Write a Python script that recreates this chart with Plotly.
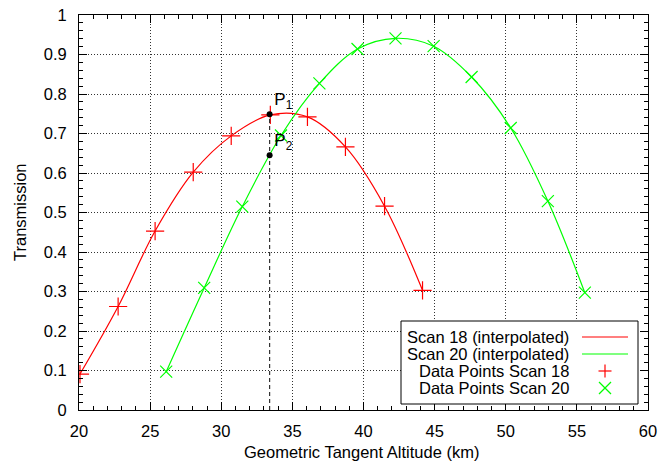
import plotly.graph_objects as go

# Data
scan18_alt = [20.07, 22.75, 25.35, 28.03, 30.70, 33.45, 36.06, 38.73, 41.48, 44.15]
scan18_tr = [0.091, 0.262, 0.453, 0.602, 0.694, 0.747, 0.742, 0.666, 0.516, 0.303]
scan20_alt = [26.13, 28.80, 31.48, 34.20, 36.90, 39.58, 42.25, 44.93, 47.60, 50.35, 52.96, 55.56]
scan20_tr = [0.097, 0.309, 0.515, 0.695, 0.827, 0.914, 0.941, 0.921, 0.843, 0.714, 0.529, 0.297]
p_alt = 33.4
p_tr = [0.749, 0.645]
p_labels = ["P<sub>1</sub>", "P<sub>2</sub>"]

legend_labels = ["Scan 18 (interpolated)", "Scan 20 (interpolated)",
                 "Data Points Scan 18", "Data Points Scan 20"]

RED = "#ff0000"
GREEN = "#00ff00"
FONT = "Liberation Sans, Arial, sans-serif"
FS = 16.5

W, H = 660, 468
# plot area in window pixels: x 79..648, y 15..410
ml, mt = 79, 15
mr = W - 648
mb = H - 410
pw, ph = W - ml - mr, H - mt - mb


def px(x):
    return (x - ml) / pw


def py(y):
    return (H - mb - y) / ph


fig = go.Figure()

fig.add_trace(go.Scatter(x=scan18_alt, y=scan18_tr, mode="lines",
                         line=dict(color=RED, width=1.2, shape="spline", smoothing=1.0),
                         name=legend_labels[0], showlegend=False))
fig.add_trace(go.Scatter(x=scan20_alt, y=scan20_tr, mode="lines",
                         line=dict(color=GREEN, width=1.2, shape="spline", smoothing=1.0),
                         name=legend_labels[1], showlegend=False))
fig.add_trace(go.Scatter(x=scan18_alt, y=scan18_tr, mode="markers",
                         marker=dict(symbol="cross-thin-open", size=13, color=RED,
                                     line=dict(color=RED, width=1.2)),
                         name=legend_labels[2], showlegend=False))
fig.add_trace(go.Scatter(x=scan20_alt, y=scan20_tr, mode="markers",
                         marker=dict(symbol="x-thin-open", size=12, color=GREEN,
                                     line=dict(color=GREEN, width=1.2)),
                         name=legend_labels[3], showlegend=False))

# vertical dashed line from the axis to P1
fig.add_trace(go.Scatter(x=[p_alt, p_alt], y=[0, p_tr[0]], mode="lines",
                         line=dict(color="#333333", width=1.2, dash="4px,3px"),
                         showlegend=False, hoverinfo="skip"))
# P1, P2 points
fig.add_trace(go.Scatter(x=[p_alt, p_alt], y=p_tr, mode="markers+text",
                         marker=dict(color="black", size=6),
                         text=p_labels, textposition="top right",
                         textfont=dict(size=17, color="black", family=FONT),
                         showlegend=False))

# Custom gnuplot-style legend (text right-aligned, sample on the right)
lx0, lx1, ly0, ly1 = 401, 638, 321, 404
fig.add_shape(type="rect", xref="paper", yref="paper",
              x0=px(lx0), x1=px(lx1), y0=py(ly1), y1=py(ly0),
              line=dict(color="black", width=1), fillcolor="white", layer="above")
rows = [337, 354, 371, 388]
for i, lab in enumerate(legend_labels):
    fig.add_annotation(xref="paper", yref="paper", x=px(571), y=py(rows[i]),
                       text=lab, showarrow=False, xanchor="right", yanchor="middle",
                       font=dict(size=FS, color="black", family=FONT))
for i, col in enumerate([RED, GREEN]):
    fig.add_shape(type="line", xref="paper", yref="paper",
                  x0=px(582), x1=px(628), y0=py(rows[i]), y1=py(rows[i]),
                  line=dict(color=col, width=1.2), layer="above")
# legend marker samples: "+" and "x" drawn as line pairs
cx = 605
r = 6.5
cy = rows[2]
fig.add_shape(type="line", xref="paper", yref="paper", x0=px(cx - r), x1=px(cx + r),
              y0=py(cy), y1=py(cy), line=dict(color=RED, width=1.2), layer="above")
fig.add_shape(type="line", xref="paper", yref="paper", x0=px(cx), x1=px(cx),
              y0=py(cy - r), y1=py(cy + r), line=dict(color=RED, width=1.2), layer="above")
cy = rows[3]
r = 6
fig.add_shape(type="line", xref="paper", yref="paper", x0=px(cx - r), x1=px(cx + r),
              y0=py(cy - r), y1=py(cy + r), line=dict(color=GREEN, width=1.2), layer="above")
fig.add_shape(type="line", xref="paper", yref="paper", x0=px(cx - r), x1=px(cx + r),
              y0=py(cy + r), y1=py(cy - r), line=dict(color=GREEN, width=1.2), layer="above")

# axis titles as annotations (precise placement)
fig.add_annotation(xref="paper", yref="paper", x=px(361), y=py(452),
                   text="Geometric Tangent Altitude (km)", showarrow=False,
                   xanchor="center", yanchor="middle",
                   font=dict(size=FS, color="black", family=FONT))
fig.add_annotation(xref="paper", yref="paper", x=px(20), y=py(212),
                   text="Transmission", showarrow=False, textangle=-90,
                   xanchor="center", yanchor="middle",
                   font=dict(size=FS, color="black", family=FONT))

axis_common = dict(
    showline=True, linecolor="black", linewidth=1, mirror="allticks",
    ticks="inside", ticklen=8, tickcolor="black", tickwidth=1,
    showgrid=True, gridcolor="rgba(0,0,0,0.8)", griddash="1px,2px", gridwidth=1,
    zeroline=False, automargin=False, ticklabeloverflow="allow",
    tickfont=dict(size=FS, color="black", family=FONT),
)

fig.update_layout(
    width=W, height=H,
    margin=dict(l=ml, r=mr, t=mt, b=mb),
    plot_bgcolor="white", paper_bgcolor="white",
    font=dict(family=FONT, size=FS, color="black"),
    xaxis=dict(range=[20, 60], dtick=5, tick0=20, ticklabelstandoff=6,
               minor=dict(dtick=1, ticklen=4, ticks="inside", tickcolor="black", showgrid=False),
               **axis_common),
    yaxis=dict(range=[0, 1], dtick=0.1, tick0=0, ticklabelstandoff=8,
               minor=dict(dtick=0.02, ticklen=4, ticks="inside", tickcolor="black", showgrid=False),
               **axis_common),
)

# remove the browser's default 8px body margin so the figure fills the window
fig.write_html("out.html", config={"displayModeBar": False},
               post_script="document.body.style.margin='0';")
